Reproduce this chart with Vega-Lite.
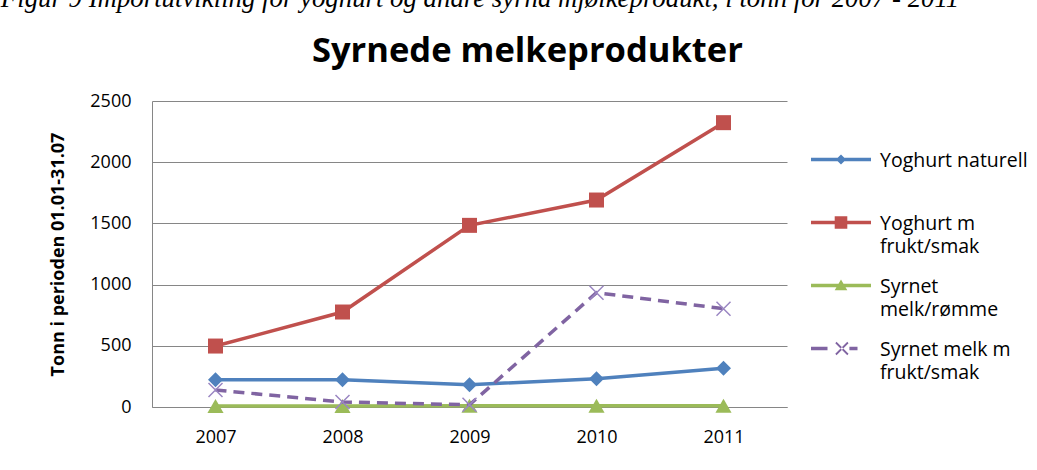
{
  "$schema": "https://vega.github.io/schema/vega-lite/v6.json",
  "padding": {"left": 0, "top": -15, "right": 0, "bottom": 0},
  "background": "white",
  "title": {
    "text": "Figur 9 Importutvikling for yoghurt og andre syrna mjølkeprodukt, i tonn for 2007 - 2011",
    "anchor": "start",
    "frame": "bounds",
    "font": "Liberation Serif",
    "fontStyle": "italic",
    "fontWeight": "normal",
    "fontSize": 26.8,
    "color": "#000000",
    "dx": -49,
    "offset": 21
  },
  "vconcat": [
    {
      "width": 635,
      "height": 306,
      "title": {
        "text": "Syrnede melkeprodukter",
        "anchor": "middle",
        "frame": "bounds",
        "font": "Open Sans",
        "fontSize": 34.5,
        "fontWeight": "bold",
        "color": "#000000",
        "offset": 23,
        "dx": 109
      },
      "data": {
        "values": [
          {"year": "2007", "series": "Yoghurt naturell", "value": 223},
          {"year": "2008", "series": "Yoghurt naturell", "value": 223},
          {"year": "2009", "series": "Yoghurt naturell", "value": 182},
          {"year": "2010", "series": "Yoghurt naturell", "value": 231},
          {"year": "2011", "series": "Yoghurt naturell", "value": 316},
          {"year": "2007", "series": "Yoghurt m frukt/smak", "value": 498},
          {"year": "2008", "series": "Yoghurt m frukt/smak", "value": 776},
          {"year": "2009", "series": "Yoghurt m frukt/smak", "value": 1484},
          {"year": "2010", "series": "Yoghurt m frukt/smak", "value": 1691},
          {"year": "2011", "series": "Yoghurt m frukt/smak", "value": 2323},
          {"year": "2007", "series": "Syrnet melk/rømme", "value": 8},
          {"year": "2008", "series": "Syrnet melk/rømme", "value": 8},
          {"year": "2009", "series": "Syrnet melk/rømme", "value": 10},
          {"year": "2010", "series": "Syrnet melk/rømme", "value": 10},
          {"year": "2011", "series": "Syrnet melk/rømme", "value": 10},
          {"year": "2007", "series": "Syrnet melk m frukt/smak", "value": 139},
          {"year": "2008", "series": "Syrnet melk m frukt/smak", "value": 41},
          {"year": "2009", "series": "Syrnet melk m frukt/smak", "value": 18},
          {"year": "2010", "series": "Syrnet melk m frukt/smak", "value": 934},
          {"year": "2011", "series": "Syrnet melk m frukt/smak", "value": 803}
        ]
      },
      "encoding": {
        "x": {
          "field": "year",
          "type": "ordinal",
          "scale": {"type": "point", "padding": 0.5},
          "axis": {
            "title": null,
            "labelAngle": 0,
            "ticks": false,
            "grid": false,
            "domainColor": "#868686",
            "domainWidth": 1,
            "labelPadding": 21,
            "labelFontSize": 18,
            "labelColor": "#000000",
            "labelFont": "Open Sans"
          }
        },
        "y": {
          "field": "value",
          "type": "quantitative",
          "scale": {"domain": [0, 2500], "nice": false, "zero": true},
          "axis": {
            "title": "Tonn i perioden 01.01-31.07",
            "titleFont": "Open Sans",
            "titleFontSize": 18,
            "titleFontWeight": "bold",
            "titleColor": "#000000",
            "titlePadding": 22,
            "values": [0, 500, 1000, 1500, 2000, 2500],
            "format": "d",
            "ticks": false,
            "grid": true,
            "gridColor": "#868686",
            "gridWidth": 1,
            "domainColor": "#868686",
            "labelPadding": 21,
            "labelFontSize": 18,
            "labelColor": "#000000",
            "labelFont": "Open Sans"
          }
        }
      },
      "layer": [
        {
          "transform": [{"filter": "datum.series == 'Yoghurt naturell'"}],
          "mark": {"type": "line", "strokeWidth": 3.5, "color": "#4F81BD"}
        },
        {
          "transform": [{"filter": "datum.series == 'Yoghurt naturell'"}],
          "mark": {"type": "point", "shape": "diamond", "filled": true, "size": 225, "opacity": 1, "color": "#4F81BD"}
        },
        {
          "transform": [{"filter": "datum.series == 'Yoghurt m frukt/smak'"}],
          "mark": {"type": "line", "strokeWidth": 3.5, "color": "#C0504D"}
        },
        {
          "transform": [{"filter": "datum.series == 'Yoghurt m frukt/smak'"}],
          "mark": {"type": "point", "shape": "square", "filled": true, "size": 225, "opacity": 1, "color": "#C0504D"}
        },
        {
          "transform": [{"filter": "datum.series == 'Syrnet melk/rømme'"}],
          "mark": {"type": "line", "strokeWidth": 3.5, "color": "#9BBB59"}
        },
        {
          "transform": [{"filter": "datum.series == 'Syrnet melk/rømme'"}],
          "mark": {"type": "point", "shape": "triangle-up", "filled": true, "size": 260, "opacity": 1, "color": "#9BBB59"}
        },
        {
          "transform": [{"filter": "datum.series == 'Syrnet melk m frukt/smak'"}],
          "mark": {"type": "line", "strokeWidth": 3.5, "color": "#8064A2", "strokeDash": [11, 7]}
        },
        {
          "transform": [{"filter": "datum.series == 'Syrnet melk m frukt/smak'"}],
          "mark": {"type": "point", "shape": "M-1,-1L1,1M1,-1L-1,1", "filled": false, "size": 196, "opacity": 1, "stroke": "#9A86C2", "strokeWidth": 1.5}
        },
        {
          "transform": [{"filter": "datum.series == 'none'"}],
          "mark": {"type": "point", "filled": true, "opacity": 1, "strokeWidth": 0},
          "encoding": {
            "fill": {
              "field": "series",
              "type": "nominal",
              "scale": {
                "domain": ["Yoghurt naturell", "Yoghurt m frukt/smak", "Syrnet melk/rømme", "Syrnet melk m frukt/smak"],
                "range": ["#4F81BD", "#C0504D", "#9BBB59", "#8064A2"]
              },
              "legend": {
                "title": null,
                "orient": "none",
                "legendX": 659,
                "legendY": 30,
                "padding": 0,
                "symbolSize": 3600,
                "symbolStrokeWidth": 0,
                "symbolOpacity": 1,
                "rowPadding": -5,
                "labelOffset": 9,
                "labelFont": "Open Sans",
                "labelFontSize": 19.5,
                "labelColor": "#000000",
                "labelLimit": 400,
                "labelExpr": "datum.label == 'Yoghurt m frukt/smak' ? ['Yoghurt m', 'frukt/smak'] : datum.label == 'Syrnet melk/rømme' ? ['Syrnet', 'melk/rømme'] : datum.label == 'Syrnet melk m frukt/smak' ? ['Syrnet melk m', 'frukt/smak'] : [datum.label, ' ']"
              }
            },
            "shape": {
              "field": "series",
              "type": "nominal",
              "scale": {
                "domain": ["Yoghurt naturell", "Yoghurt m frukt/smak", "Syrnet melk/rømme", "Syrnet melk m frukt/smak"],
                "range": [
                  "M-1,-0.11H1V0.01H-1Z M0,-0.22L0.17,-0.05L0,0.12L-0.17,-0.05Z",
                  "M-1,-0.11H1V0.01H-1Z M-0.21,-0.26H0.21V0.16H-0.21Z",
                  "M-1,-0.11H1V0.01H-1Z M0,-0.25L0.21,0.11H-0.21Z",
                  "M-1,-0.11H-0.45V0.01H-1Z M0.28,-0.11H0.55V0.01H0.28Z M-0.191,-0.229L0.209,0.171L0.251,0.129L-0.149,-0.271Z M0.251,-0.229L-0.149,0.171L-0.191,0.129L0.209,-0.271Z"
                ]
              },
              "legend": {
                "title": null,
                "orient": "none",
                "legendX": 659,
                "legendY": 30,
                "padding": 0,
                "symbolSize": 3600,
                "symbolStrokeWidth": 0,
                "symbolOpacity": 1,
                "rowPadding": -5,
                "labelOffset": 9,
                "labelFont": "Open Sans",
                "labelFontSize": 19.5,
                "labelColor": "#000000",
                "labelLimit": 400,
                "labelExpr": "datum.label == 'Yoghurt m frukt/smak' ? ['Yoghurt m', 'frukt/smak'] : datum.label == 'Syrnet melk/rømme' ? ['Syrnet', 'melk/rømme'] : datum.label == 'Syrnet melk m frukt/smak' ? ['Syrnet melk m', 'frukt/smak'] : [datum.label, ' ']"
              }
            }
          }
        }
      ]
    }
  ],
  "config": {
    "view": {"stroke": null},
    "font": "Open Sans",
    "style": {"guide-label": {"lineHeight": 23}}
  }
}
